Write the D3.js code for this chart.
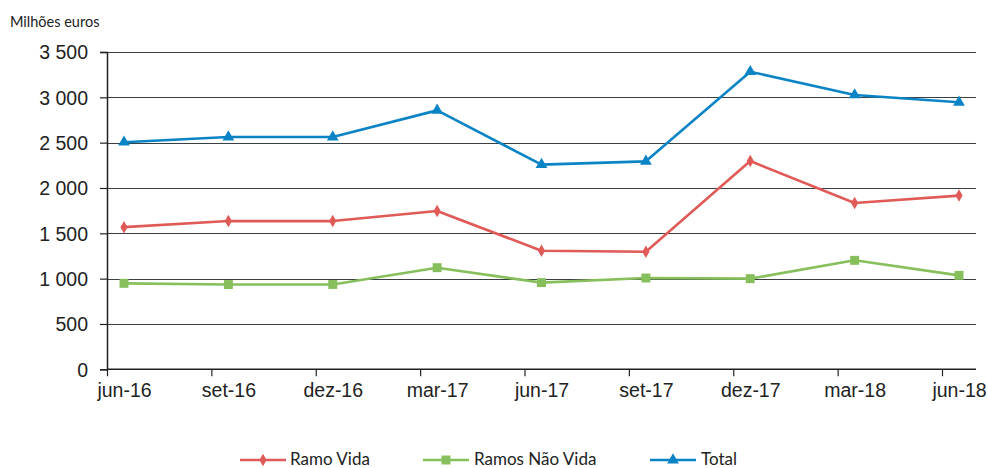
<!DOCTYPE html>
<html>
<head>
<meta charset="utf-8">
<script src="https://cdn.jsdelivr.net/npm/d3@7"></script>
<style>
  body { margin: 0; background: #fff; }
  svg { display: block; font-family: Lato, "Open Sans", sans-serif; }
  .axis text { fill: #222; font-size: 19.5px; }
</style>
</head>
<body>
<svg id="chart" width="988" height="468"></svg>
<script>
const categories = ['jun-16', 'set-16', 'dez-16', 'mar-17', 'jun-17', 'set-17', 'dez-17', 'mar-18', 'jun-18'];
const ramoVida = [1568, 1635, 1635, 1746, 1308, 1297, 2297, 1835, 1916];
const ramosNaoVida = [948, 935, 936, 1121, 956, 1007, 1000, 1202, 1036];
const total = [2505, 2562, 2562, 2856, 2258, 2294, 3283, 3026, 2945];
const yTicks = [0, 500, 1000, 1500, 2000, 2500, 3000, 3500];

const series = [
  { name: 'Ramo Vida', values: ramoVida, color: '#e05a57', marker: d3.symbolDiamond, size: 45 },
  { name: 'Ramos Não Vida', values: ramosNaoVida, color: '#86bf5b', marker: d3.symbolSquare, size: 80 },
  { name: 'Total', values: total, color: '#0b84c6', marker: d3.symbolTriangle, size: 60 }
];

const svg = d3.select('#chart');
const plotLeft = 107, plotRight = 976, plotTop = 52, plotBottom = 369.3;
const tickOffset = 17;

const x = d3.scalePoint()
  .domain(categories)
  .range([124, 959]);

const y = d3.scaleLinear()
  .domain([0, 3500])
  .range([plotBottom, plotTop]);

const fmt = v => d3.format(',')(v).replace(/,/g, ' ');

// gridlines
svg.append('g')
  .selectAll('line')
  .data(yTicks.filter(d => d > 0))
  .enter().append('line')
  .attr('x1', plotLeft)
  .attr('x2', plotRight)
  .attr('y1', d => Math.round(y(d)) + 0.5)
  .attr('y2', d => Math.round(y(d)) + 0.5)
  .attr('stroke', '#3a3f44')
  .attr('stroke-width', 1.2);

// y axis
const yAxis = svg.append('g')
  .attr('class', 'axis')
  .attr('transform', `translate(${plotLeft},0)`)
  .call(d3.axisLeft(y).tickValues(yTicks).tickFormat(fmt).tickSize(7).tickPadding(12));
yAxis.select('.domain').attr('stroke', '#222').attr('stroke-width', 1.5);
yAxis.selectAll('.tick line').attr('stroke', '#222').attr('stroke-width', 1.2);
yAxis.selectAll('.tick text').attr('dy', '0.35em');

// x axis
const xAxis = svg.append('g')
  .attr('class', 'axis')
  .attr('transform', `translate(0,${plotBottom})`)
  .call(d3.axisBottom(x).tickSize(0).tickPadding(14));
xAxis.select('.domain').remove();
xAxis.append('line')
  .attr('x1', plotLeft).attr('x2', plotRight)
  .attr('stroke', '#222').attr('stroke-width', 1.5);
xAxis.selectAll('.tick')
  .append('line')
  .attr('x1', -tickOffset).attr('x2', -tickOffset)
  .attr('y1', 0).attr('y2', 7)
  .attr('stroke', '#222').attr('stroke-width', 1.2);

// unit label
svg.append('text')
  .attr('x', 10).attr('y', 27)
  .attr('font-size', 14.5)
  .attr('fill', '#222')
  .text('Milhões euros');

// lines + markers
const line = d3.line()
  .x((d, i) => x(categories[i]))
  .y(d => y(d));

series.forEach(s => {
  svg.append('path')
    .datum(s.values)
    .attr('fill', 'none')
    .attr('stroke', s.color)
    .attr('stroke-width', 2.6)
    .attr('stroke-linejoin', 'round')
    .attr('d', line);

  svg.selectAll(null)
    .data(s.values)
    .enter().append('path')
    .attr('transform', (d, i) => `translate(${x(categories[i])},${y(d)})`)
    .attr('d', d3.symbol().type(s.marker).size(s.size))
    .attr('fill', s.color);
});

// legend
const legendItems = [
  { lx: 240, tx: 290 },
  { lx: 423, tx: 474 },
  { lx: 650, tx: 701 }
];
const legend = svg.append('g').attr('transform', 'translate(0,460)');
series.forEach((s, i) => {
  const p = legendItems[i];
  legend.append('line')
    .attr('x1', p.lx).attr('x2', p.lx + 46)
    .attr('stroke', s.color).attr('stroke-width', 2.6);
  legend.append('path')
    .attr('transform', `translate(${p.lx + 23},0)`)
    .attr('d', d3.symbol().type(s.marker).size(s.size))
    .attr('fill', s.color);
  legend.append('text')
    .attr('x', p.tx).attr('y', -1).attr('dy', '0.35em')
    .attr('font-size', 17).attr('fill', '#222')
    .text(s.name);
});
</script>
</body>
</html>
